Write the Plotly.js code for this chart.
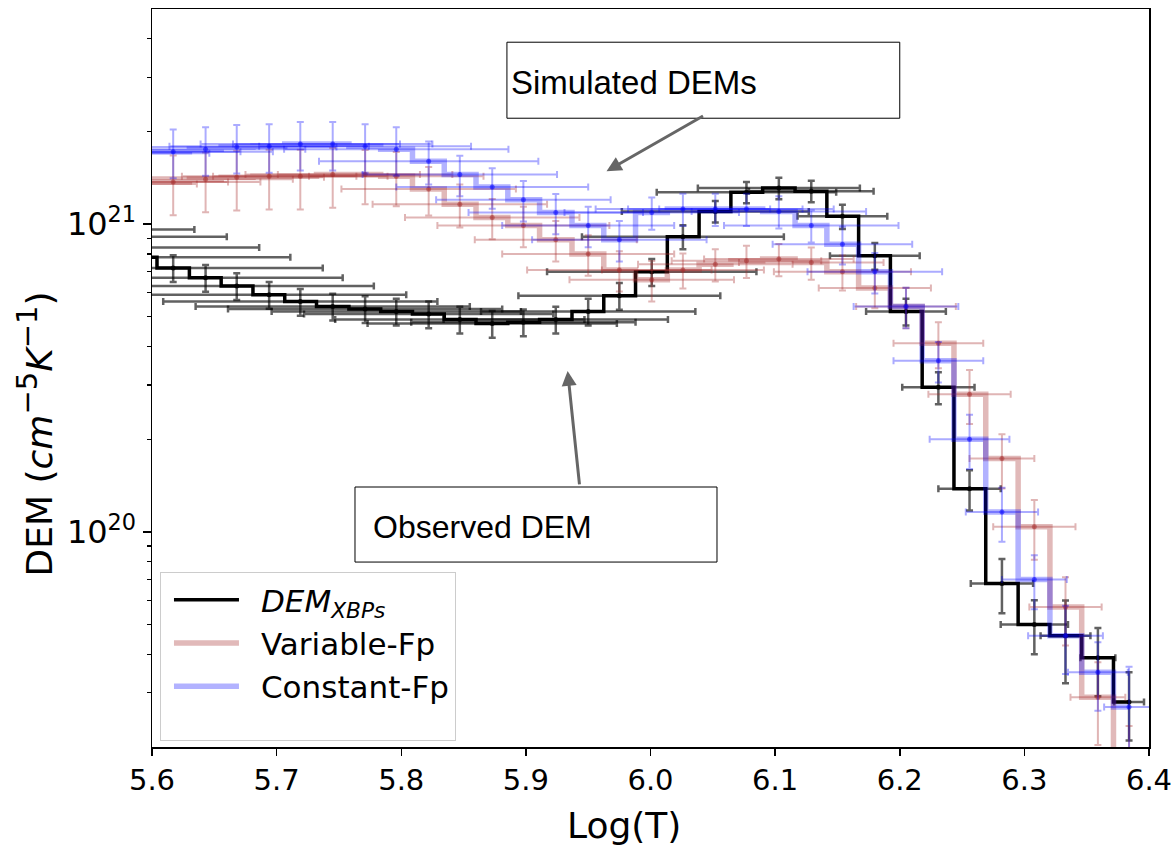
<!DOCTYPE html>
<html>
<head>
<meta charset="utf-8">
<script src="https://cdn.plot.ly/plotly-3.0.1.min.js"></script>
<style>html,body{margin:0;padding:0;background:#fff;}#chart{width:1172px;height:852px;}</style>
</head>
<body>
<div id="chart"></div>
<script>
// log(T) grid (bin centres)
const logT = [5.514, 5.540, 5.566, 5.591, 5.617, 5.643, 5.668, 5.694, 5.719, 5.745, 5.771, 5.796,
  5.822, 5.847, 5.873, 5.898, 5.924, 5.950, 5.975, 6.001, 6.026, 6.052, 6.077, 6.103, 6.129,
  6.154, 6.180, 6.205, 6.231, 6.256, 6.282, 6.308, 6.333, 6.359, 6.384];

// Observed DEM (XBPs)
const demObs = [9.6e20, 9.1e20, 8.4e20, 7.8e20, 7.2e20, 6.7e20, 6.3e20, 5.9e20, 5.6e20, 5.4e20, 5.3e20, 5.2e20,
  5.1e20, 4.9e20, 4.75e20, 4.8e20, 4.9e20, 5.2e20, 5.85e20, 7.0e20, 9.1e20, 1.1e21, 1.27e21, 1.31e21, 1.28e21,
  1.06e21, 7.9e20, 5.2e20, 2.95e20, 1.38e20, 6.8e19, 5.0e19, 4.6e19, 3.9e19, 2.8e19];
const demObsRelErr = [0.1, 0.1, 0.1, 0.1, 0.1, 0.1, 0.1, 0.1, 0.1, 0.1, 0.1, 0.1,
  0.1, 0.1, 0.1, 0.1, 0.1, 0.1, 0.1, 0.1, 0.09, 0.08, 0.08, 0.08, 0.08,
  0.09, 0.1, 0.1, 0.12, 0.15, 0.2, 0.2, 0.3, 0.25, 0.25];
const demObsErrT = [0.12, 0.12, 0.12, 0.12, 0.12, 0.11, 0.11, 0.11, 0.11, 0.11, 0.11, 0.10,
  0.10, 0.10, 0.10, 0.09, 0.09, 0.086, 0.081, 0.084, 0.081, 0.075, 0.072, 0.065, 0.05,
  0.036, 0.036, 0.032, 0.029, 0.025, 0.025, 0.027, 0.02, 0.014, 0.012];

// Simulated DEM, variable footpoint (starts at logT index 2)
const demVar = [1.35e21, 1.37e21, 1.37e21, 1.40e21, 1.42e21, 1.43e21, 1.43e21, 1.45e21, 1.45e21, 1.43e21,
  1.30e21, 1.16e21, 1.05e21, 9.9e20, 8.9e20, 8.0e20, 7.1e20, 6.6e20, 7.1e20, 7.4e20, 7.6e20, 7.7e20, 7.5e20,
  7.0e20, 6.2e20, 5.4e20, 4.1e20, 2.8e20, 1.73e20, 1.04e20, 5.7e19, 2.9e19, 1.8e19];
const demVarRelErr = [0.22, 0.22, 0.22, 0.22, 0.22, 0.22, 0.22, 0.22, 0.2, 0.2,
  0.18, 0.16, 0.15, 0.15, 0.15, 0.15, 0.15, 0.15, 0.13, 0.12, 0.12, 0.12, 0.12,
  0.13, 0.14, 0.15, 0.17, 0.2, 0.2, 0.22, 0.25, 0.3, 0.3];
const demVarErrT = [0.07, 0.07, 0.07, 0.07, 0.07, 0.07, 0.07, 0.07, 0.07, 0.07,
  0.07, 0.07, 0.07, 0.069, 0.065, 0.069, 0.074, 0.066, 0.065, 0.062, 0.06, 0.06, 0.058,
  0.055, 0.045, 0.04, 0.036, 0.033, 0.026, 0.033, 0.029, 0.022, 0.02];

// Simulated DEM, constant footpoint (starts at logT index 2)
const demConst = [1.70e21, 1.72e21, 1.72e21, 1.75e21, 1.78e21, 1.79e21, 1.82e21, 1.82e21, 1.79e21, 1.75e21,
  1.60e21, 1.45e21, 1.32e21, 1.20e21, 1.09e21, 9.9e20, 8.9e20, 1.09e21, 1.12e21, 1.12e21, 1.12e21, 1.10e21, 9.9e20,
  8.6e20, 7.0e20, 5.4e20, 3.6e20, 2.0e20, 1.16e20, 7.0e19, 4.6e19, 3.5e19, 2.7e19];
const demConstRelErr = [0.18, 0.18, 0.18, 0.18, 0.18, 0.18, 0.18, 0.18, 0.18, 0.18,
  0.16, 0.15, 0.15, 0.15, 0.15, 0.15, 0.15, 0.12, 0.12, 0.12, 0.12, 0.12, 0.12,
  0.14, 0.15, 0.15, 0.15, 0.2, 0.2, 0.2, 0.25, 0.25, 0.35];
const demConstErrT = [0.08, 0.08, 0.08, 0.08, 0.08, 0.08, 0.08, 0.08, 0.085, 0.09,
  0.088, 0.078, 0.077, 0.07, 0.07, 0.069, 0.07, 0.07, 0.07, 0.07, 0.07, 0.07, 0.07,
  0.056, 0.054, 0.042, 0.036, 0.032, 0.029, 0.026, 0.03, 0.024, 0.02];

const legendNames = ['<i>DEM</i><sub><i>XBPs</i></sub>', 'Variable-Fp', 'Constant-Fp'];
const xTicks = [5.6, 5.7, 5.8, 5.9, 6.0, 6.1, 6.2, 6.3, 6.4];
const xTickText = ['5.6', '5.7', '5.8', '5.9', '6.0', '6.1', '6.2', '6.3', '6.4'];
const xTitle = 'Log(T)';
const yTitle = 'DEM (<i>cm</i><sup><span style="font-size:29px">−5</span></sup>' +
  '<i>K</i><sup><span style="font-size:29px">−1</span></sup>)';

const absErr = (v, r) => v.map((d, i) => d * r[i]);
const tSim = logT.slice(2);

function series(x, y, rel, errT, lineCol, barCol, markCol, lw, name, cap, thick) {
  return [
    {x: x, y: y, type: 'scatter', mode: 'markers', showlegend: false, hoverinfo: 'skip',
     marker: {size: 5, color: markCol},
     error_y: {type: 'data', array: absErr(y, rel), color: barCol, thickness: thick, width: cap},
     error_x: {type: 'data', array: errT, color: barCol, thickness: thick, width: cap}},
    {x: x, y: y, type: 'scatter', mode: 'lines', name: name,
     line: {shape: 'hvh', color: lineCol, width: lw}}
  ];
}

const traces = [].concat(
  series(logT, demObs, demObsRelErr, demObsErrT, '#000000', 'rgba(0,0,0,0.62)', 'rgba(0,0,0,0.8)', 3.5, legendNames[0], 3.5, 2.5),
  series(tSim, demVar, demVarRelErr, demVarErrT, 'rgba(165,42,42,0.33)', 'rgba(165,42,42,0.35)', 'rgba(165,42,42,0.5)', 5.5, legendNames[1], 3.5, 2),
  series(tSim, demConst, demConstRelErr, demConstErrT, 'rgba(0,0,255,0.3)', 'rgba(0,0,255,0.33)', 'rgba(0,0,255,0.5)', 5.5, legendNames[2], 3.5, 2)
);

const minorVals = [3e19, 4e19, 5e19, 6e19, 7e19, 8e19, 9e19,
  2e20, 3e20, 4e20, 5e20, 6e20, 7e20, 8e20, 9e20, 2e21, 3e21, 4e21];

const layout = {
  width: 1172, height: 852,
  margin: {l: 152, r: 23, t: 9, b: 105},
  paper_bgcolor: '#ffffff', plot_bgcolor: '#ffffff',
  font: {family: 'DejaVu Sans, sans-serif', color: '#000'},
  showlegend: true,
  legend: {x: 0.008, y: 0.237, xanchor: 'left', yanchor: 'top', bgcolor: '#ffffff',
    bordercolor: '#cccccc', borderwidth: 1, font: {size: 31, family: 'DejaVu Sans'}, itemwidth: 90,
    tracegroupgap: 0},
  xaxis: {range: [5.6, 6.4], tickmode: 'array', tickvals: xTicks, ticktext: xTickText,
    ticks: 'outside', ticklen: 7, tickwidth: 1.5, tickcolor: '#000', ticklabeloverflow: 'allow',
    showline: true, mirror: true, linecolor: '#000', linewidth: 1.5, showgrid: false, zeroline: false,
    tickfont: {size: 29}},
  yaxis: {type: 'log', range: [19.301, 21.699], tickmode: 'array', tickvals: [1e20, 1e21],
    ticktext: ['10<sup>20</sup>', '10<sup>21</sup>'],
    ticks: 'outside', ticklen: 8, tickwidth: 1.5, tickcolor: '#000',
    minor: {tickmode: 'array', tickvals: minorVals, ticks: 'outside', ticklen: 4, tickwidth: 1.2, tickcolor: '#000', showgrid: false},
    showline: true, mirror: true, linecolor: '#000', linewidth: 1.5, showgrid: false, zeroline: false,
    tickfont: {size: 32}},
  shapes: [
    {type: 'rect', xref: 'paper', yref: 'paper', x0: 0.356, x1: 0.750, y0: 0.852, y1: 0.955,
     line: {color: '#000', width: 1}, fillcolor: '#ffffff', layer: 'above'},
    {type: 'rect', xref: 'paper', yref: 'paper', x0: 0.2036, x1: 0.5667, y0: 0.2506, y1: 0.3523,
     line: {color: '#000', width: 1}, fillcolor: '#ffffff', layer: 'above'}
  ],
  annotations: [
    {xref: 'paper', yref: 'paper', x: 0.4734, y: -0.106, xanchor: 'center', yanchor: 'middle', showarrow: false,
     text: xTitle, font: {family: 'DejaVu Sans', size: 36, color: '#000'}},
    {xref: 'paper', yref: 'paper', x: -0.117, y: 0.424, xanchor: 'center', yanchor: 'middle', showarrow: false,
     textangle: -90, text: yTitle, font: {family: 'DejaVu Sans', size: 36, color: '#000'}},
    {xref: 'paper', yref: 'paper', x: 0.358, y: 0.9, xanchor: 'left', yanchor: 'middle', showarrow: false,
     text: 'Simulated DEMs', font: {family: 'Liberation Sans, Arial', size: 33, color: '#000'}},
    {xref: 'paper', yref: 'paper', x: 0.2196, y: 0.298, xanchor: 'left', yanchor: 'middle', showarrow: false,
     text: 'Observed DEM', font: {family: 'Liberation Sans, Arial', size: 32, color: '#000'}},
    {xref: 'x', yref: 'y', x: 5.9647, y: 21.172, ax: 98, ay: -56, showarrow: true, text: '',
     arrowcolor: '#666666', arrowwidth: 3, arrowhead: 2, arrowsize: 1, standoff: 0, startstandoff: 0},
    {xref: 'x', yref: 'y', x: 5.9335, y: 20.523, ax: 12, ay: 115, showarrow: true, text: '',
     arrowcolor: '#666666', arrowwidth: 3, arrowhead: 2, arrowsize: 1, standoff: 0, startstandoff: 0}
  ]
};

Plotly.newPlot('chart', traces, layout, {staticPlot: true, displayModeBar: false}).then(function (gd) {
  // longer legend sample lines, as in the reference
  gd.querySelectorAll('.legend .legendlines path').forEach(function (p) {
    p.setAttribute('d', 'M13,0h65');
  });
  var bg = gd.querySelector('.legend rect.bg');
  if (bg) {
    var h = parseFloat(bg.getAttribute('height'));
    if (h && h < 168) bg.setAttribute('height', 168);
  }
});
</script>
</body>
</html>
